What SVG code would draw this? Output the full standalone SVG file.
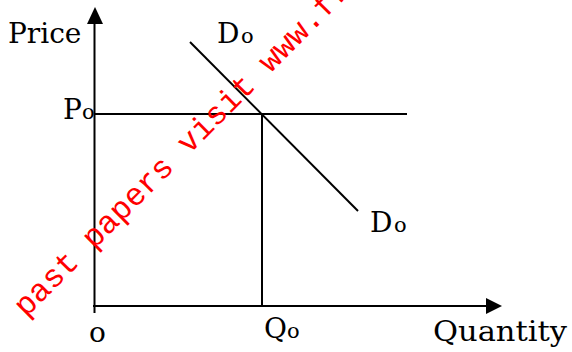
<svg xmlns="http://www.w3.org/2000/svg" width="572" height="352" viewBox="0 0 572 352">
<style>
.ln{stroke:#000;stroke-width:2;fill:none}
.lbl{font-family:"DejaVu Serif","Liberation Serif",serif;font-size:28px;fill:#000}
.sub{font-family:"DejaVu Serif","Liberation Serif",serif;font-size:21px;fill:#000}
.wm{font-family:"Liberation Mono","Courier New",monospace;font-size:32px;fill:#ff0000}
</style>
<rect width="572" height="352" fill="#fff"/>
<g id="axes">
<line class="ln" x1="94.5" y1="20" x2="94.5" y2="313"/>
<polygon points="95,7 87,24 103,24" fill="#000"/>
<line class="ln" x1="93" y1="306" x2="488" y2="306"/>
<polygon points="502,306 486,298 486,314" fill="#000"/>
</g>
<g id="connectors">
<line class="ln" x1="94" y1="114" x2="407" y2="114"/>
<line class="ln" x1="262" y1="114" x2="262" y2="306"/>
<line class="ln" x1="190" y1="42" x2="358" y2="211"/>
</g>
<g id="labels">
<text class="lbl" x="8" y="43">Price</text>
<text class="lbl" x="63" y="119">P</text><text class="sub" x="82" y="119">o</text>
<text class="lbl" x="217" y="43">D</text><text class="sub" x="241" y="43">o</text>
<text class="lbl" x="370" y="232">D</text><text class="sub" x="394" y="232">o</text>
<text class="lbl" x="89" y="342">o</text>
<text class="lbl" x="264" y="338">Q</text><text class="sub" x="287" y="338">o</text>
<text class="lbl" x="433" y="341" textLength="134" lengthAdjust="spacingAndGlyphs">Quantity</text>
</g>
<g id="watermark">
<text class="wm" x="26" y="318" transform="rotate(-45 26 318)">past papers visit www.fr</text>
</g>
</svg>
